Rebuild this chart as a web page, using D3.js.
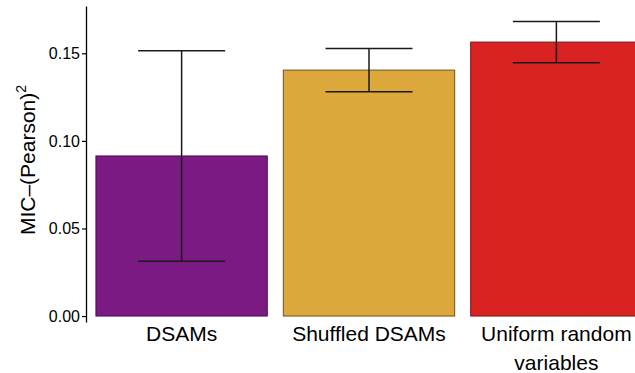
<!DOCTYPE html>
<html>
<head>
<meta charset="utf-8">
<script src="https://cdn.jsdelivr.net/npm/d3@7"></script>
<style>
  html, body { margin: 0; padding: 0; background: #fff; }
  svg { display: block; font-family: "Liberation Sans", Arial, sans-serif; }
</style>
</head>
<body>
<svg id="chart" width="635" height="373"></svg>
<script>
// Mean MIC minus squared Pearson correlation, with error half-widths
const categories = ["DSAMs", "Shuffled DSAMs", "Uniform random\nvariables"];
const means = [0.0914, 0.1404, 0.1564];
const errors = [0.0601, 0.0123, 0.0118];
const fills = ["#7a1a82", "#dca83b", "#d92323"];
const edges = ["#4a0f50", "#6e5220", "#7a1414"];
const yTicks = [0.00, 0.05, 0.10, 0.15];

const svg = d3.select("#chart");

const x = d3.scaleBand()
  .domain(categories)
  .range([86, 652])
  .paddingInner(0.0855)
  .paddingOuter(0.053);

const y = d3.scaleLinear()
  .domain([-0.0034, 0.177])
  .range([322, 6]);

// Bars
svg.append("g").selectAll("rect")
  .data(categories)
  .join("rect")
  .attr("x", d => x(d))
  .attr("width", x.bandwidth())
  .attr("y", (d, i) => y(means[i]))
  .attr("height", (d, i) => y(0) - y(means[i]))
  .attr("fill", (d, i) => fills[i])
  .attr("stroke", (d, i) => edges[i])
  .attr("stroke-width", 1);

// Error bars with caps
const capHalf = 43.5;
const eb = svg.append("g").attr("stroke", "#1a1a1a").attr("stroke-width", 1.5);
categories.forEach((c, i) => {
  const cx = x(c) + x.bandwidth() / 2;
  const lo = y(means[i] - errors[i]);
  const hi = y(means[i] + errors[i]);
  eb.append("line").attr("x1", cx).attr("x2", cx).attr("y1", lo).attr("y2", hi);
  eb.append("line").attr("x1", cx - capHalf).attr("x2", cx + capHalf).attr("y1", lo).attr("y2", lo);
  eb.append("line").attr("x1", cx - capHalf).attr("x2", cx + capHalf).attr("y1", hi).attr("y2", hi);
});

// Y axis
const yAxis = d3.axisLeft(y)
  .tickValues(yTicks)
  .tickFormat(d3.format(".2f"))
  .tickSizeInner(4)
  .tickSizeOuter(0)
  .tickPadding(2);

const gy = svg.append("g").attr("transform", "translate(86,0)").call(yAxis);
gy.select(".domain").attr("stroke", "#000").attr("stroke-width", 1.3);
gy.selectAll(".tick line").attr("stroke", "#000").attr("stroke-width", 1.2);
gy.selectAll(".tick text").attr("font-size", 16).attr("fill", "#000")
  .attr("font-family", "Liberation Sans, Arial, sans-serif");

// Category labels (multi-line where needed)
const lab = svg.append("g").attr("font-size", 21).attr("text-anchor", "middle").attr("fill", "#000");
categories.forEach(c => {
  const t = lab.append("text")
    .attr("x", x(c) + x.bandwidth() / 2)
    .attr("y", 341);
  c.split("\n").forEach((line, k) => {
    t.append("tspan")
      .attr("x", x(c) + x.bandwidth() / 2)
      .attr("dy", k === 0 ? 0 : 29)
      .text(line);
  });
});

// Y axis title with superscript
const title = svg.append("text")
  .attr("transform", "translate(35,160) rotate(-90)")
  .attr("text-anchor", "middle")
  .attr("font-size", 21)
  .attr("fill", "#000");
title.append("tspan").text("MIC\u2013(Pearson)");
title.append("tspan").attr("font-size", 14).attr("dy", -9).text("2");
</script>
</body>
</html>
